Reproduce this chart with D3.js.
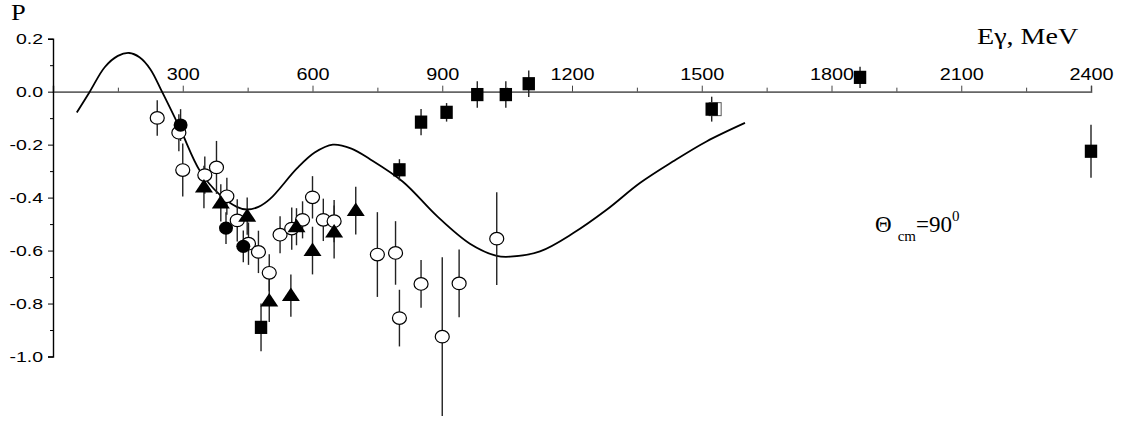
<!DOCTYPE html>
<html>
<head>
<meta charset="utf-8">
<title>P vs E gamma</title>
<script src="https://d3js.org/d3.v7.min.js"></script>
<style>
  body { margin: 0; background: #fff; }
  svg { display: block; }
</style>
</head>
<body>
<script>
// theory curve
var curveE = [55, 85, 120, 150, 176, 200, 225, 252, 294, 340, 386, 425, 448, 475, 502, 564, 605, 647, 690, 733, 809, 888, 964, 1026, 1057, 1126, 1203, 1280, 1357, 1434, 1511, 1600];
var curveP = [-0.079, 0, 0.093, 0.135, 0.146, 0.13, 0.085, 0, -0.14, -0.30, -0.39, -0.435, -0.445, -0.435, -0.405, -0.29, -0.23, -0.20, -0.215, -0.255, -0.34, -0.47, -0.574, -0.62, -0.623, -0.603, -0.534, -0.446, -0.345, -0.263, -0.188, -0.118];

// open circles
var openE = [241, 291, 300, 351, 378, 402, 426, 452, 475, 500, 525, 552, 577, 600, 625, 650, 750, 792, 801, 851, 900, 939, 1026];
var openP = [-0.099, -0.155, -0.296, -0.315, -0.286, -0.395, -0.486, -0.574, -0.605, -0.684, -0.54, -0.517, -0.484, -0.399, -0.484, -0.489, -0.615, -0.609, -0.855, -0.726, -0.925, -0.724, -0.555];
var openErr = [0.067, 0.07, 0.1, 0.07, 0.1, 0.07, 0.08, 0.08, 0.08, 0.07, 0.07, 0.08, 0.07, 0.08, 0.08, 0.08, 0.16, 0.12, 0.107, 0.09, 0.3, 0.128, 0.175];

// filled circles
var dotE = [295, 400, 440];
var dotP = [-0.126, -0.515, -0.584];
var dotErr = [0.06, 0.06, 0.06];

// triangles
var triE = [349, 388, 449, 500, 550, 563, 600, 650, 700];
var triP = [-0.36, -0.42, -0.47, -0.79, -0.77, -0.51, -0.60, -0.53, -0.449];
var triErr = [0.08, 0.07, 0.07, 0.08, 0.08, 0.07, 0.09, 0.1, 0.09];

// filled squares
var sqE = [481, 801, 851, 910, 981, 1047, 1100, 1523, 1866, 2400];
var sqP = [-0.89, -0.295, -0.115, -0.078, -0.011, -0.011, 0.03, -0.066, 0.054, -0.225];
var sqErr = [0.09, 0.04, 0.05, 0.035, 0.05, 0.05, 0.05, 0.047, 0.04, 0.1];

// open square
var osqE = [1531];
var osqP = [-0.066];

var xMajor = [300, 600, 900, 1200, 1500, 1800, 2100, 2400];
var xMinor = [150, 450, 750, 1050, 1350, 1650, 1950, 2250];
var yMajor = [0.2, 0.0, -0.2, -0.4, -0.6, -0.8, -1.0];
var yMinor = [0.1, -0.1, -0.3, -0.5, -0.7, -0.9];

var width = 1122, height = 421;

var svg = d3.select("body").append("svg")
    .attr("width", width)
    .attr("height", height);

var x = d3.scaleLinear().domain([0, 2400]).range([53, 1091]);
var y = d3.scaleLinear().domain([-1.0, 0.2]).range([356.5, 38.7]);

// stretch text horizontally like the original image
function widen(sel, k) {
    sel.each(function() {
        var w = this.getComputedTextLength();
        d3.select(this).attr("textLength", w * k).attr("lengthAdjust", "spacingAndGlyphs");
    });
}

// x axis (labels above the zero line)
var gx = svg.append("g")
    .attr("transform", "translate(0," + y(0) + ")")
    .call(d3.axisTop(x).tickValues(xMajor).tickSize(6).tickPadding(6).tickFormat(d3.format("d")));
gx.select(".domain").attr("stroke", "#666").attr("stroke-width", 1.6);
gx.selectAll(".tick line").attr("stroke", "#444");
gx.selectAll("text")
    .attr("font-family", "'Liberation Sans', Arial, sans-serif")
    .attr("font-size", 16)
    .attr("fill", "#000")
    .call(widen, 1.24);

var gxm = svg.append("g")
    .attr("transform", "translate(0," + y(0) + ")")
    .call(d3.axisTop(x).tickValues(xMinor).tickSize(4).tickFormat(""));
gxm.select(".domain").remove();
gxm.selectAll(".tick line").attr("stroke", "#444");

// y axis
var gy = svg.append("g")
    .attr("transform", "translate(" + x(0) + ",0)")
    .call(d3.axisLeft(y).tickValues(yMajor).tickSize(5).tickPadding(5).tickFormat(d3.format(".1f")));
gy.select(".domain").attr("stroke", "#000").attr("stroke-width", 1.4);
gy.selectAll("text")
    .attr("font-family", "'Liberation Sans', Arial, sans-serif")
    .attr("font-size", 15)
    .attr("fill", "#000")
    .text(function(d) { return d3.format(".1f")(d).replace("\u2212", "-"); })
    .call(widen, 1.3);

var gym = svg.append("g")
    .attr("transform", "translate(" + x(0) + ",0)")
    .call(d3.axisLeft(y).tickValues(yMinor).tickSize(3).tickFormat(""));
gym.select(".domain").remove();

// theory curve
var line = d3.line()
    .x(function(d) { return x(d[0]); })
    .y(function(d) { return y(d[1]); })
    .curve(d3.curveCatmullRom.alpha(0.5));

svg.append("path")
    .datum(d3.zip(curveE, curveP))
    .attr("d", line)
    .attr("fill", "none")
    .attr("stroke", "#000")
    .attr("stroke-width", 1.8);

// error bars
function errBars(E, P, Err, cls) {
    svg.selectAll("line." + cls)
        .data(d3.zip(E, P, Err))
        .enter()
        .append("line")
        .attr("class", cls)
        .attr("x1", function(d) { return x(d[0]); })
        .attr("x2", function(d) { return x(d[0]); })
        .attr("y1", function(d) { return y(d[1] + d[2]); })
        .attr("y2", function(d) { return y(d[1] - d[2]); })
        .attr("stroke", "#222")
        .attr("stroke-width", 1.4);
}
errBars(openE, openP, openErr, "eo");
errBars(dotE, dotP, dotErr, "ed");
errBars(triE, triP, triErr, "et");
errBars(sqE, sqP, sqErr, "es");

// open circles
svg.selectAll("ellipse.open")
    .data(d3.zip(openE, openP))
    .enter()
    .append("ellipse")
    .attr("class", "open")
    .attr("cx", function(d) { return x(d[0]); })
    .attr("cy", function(d) { return y(d[1]); })
    .attr("rx", 7)
    .attr("ry", 6.3)
    .attr("fill", "#fff")
    .attr("stroke", "#000")
    .attr("stroke-width", 1.2);

// open square
svg.selectAll("rect.osq")
    .data(d3.zip(osqE, osqP))
    .enter()
    .append("rect")
    .attr("class", "osq")
    .attr("x", function(d) { return x(d[0]) - 6; })
    .attr("y", function(d) { return y(d[1]) - 6.5; })
    .attr("width", 12)
    .attr("height", 13)
    .attr("fill", "#fff")
    .attr("stroke", "#555")
    .attr("stroke-width", 1);

// filled circles
svg.selectAll("ellipse.dot")
    .data(d3.zip(dotE, dotP))
    .enter()
    .append("ellipse")
    .attr("class", "dot")
    .attr("cx", function(d) { return x(d[0]); })
    .attr("cy", function(d) { return y(d[1]); })
    .attr("rx", 7)
    .attr("ry", 6.6)
    .attr("fill", "#000");

// triangles
svg.selectAll("path.tri")
    .data(d3.zip(triE, triP))
    .enter()
    .append("path")
    .attr("class", "tri")
    .attr("d", "M0,-8L9,5.5L-9,5.5Z")
    .attr("transform", function(d) { return "translate(" + x(d[0]) + "," + y(d[1]) + ")"; })
    .attr("fill", "#000");

// filled squares
svg.selectAll("rect.sq")
    .data(d3.zip(sqE, sqP))
    .enter()
    .append("rect")
    .attr("class", "sq")
    .attr("x", function(d) { return x(d[0]) - 6.2; })
    .attr("y", function(d) { return y(d[1]) - 6.6; })
    .attr("width", 12.4)
    .attr("height", 13.2)
    .attr("fill", "#000");

// labels
var serif = "'Liberation Serif', 'Times New Roman', serif";
svg.append("text")
    .attr("x", 11).attr("y", 20)
    .attr("font-family", serif).attr("font-size", 23)
    .text("P")
    .call(widen, 1.15);

svg.append("text")
    .attr("x", 977).attr("y", 44)
    .attr("font-family", serif).attr("font-size", 23)
    .text("E\u03b3, MeV")
    .call(widen, 1.22);

var th = svg.append("text")
    .attr("x", 875).attr("y", 232)
    .attr("font-family", serif).attr("font-size", 23);
th.append("tspan").text("\u0398");
th.append("tspan").attr("dx", 6).attr("dy", 9).attr("font-size", 15).text("cm");
th.append("tspan").attr("dy", -9).text("=90");
th.append("tspan").attr("dy", -11).attr("font-size", 15).text("0");
</script>
</body>
</html>
